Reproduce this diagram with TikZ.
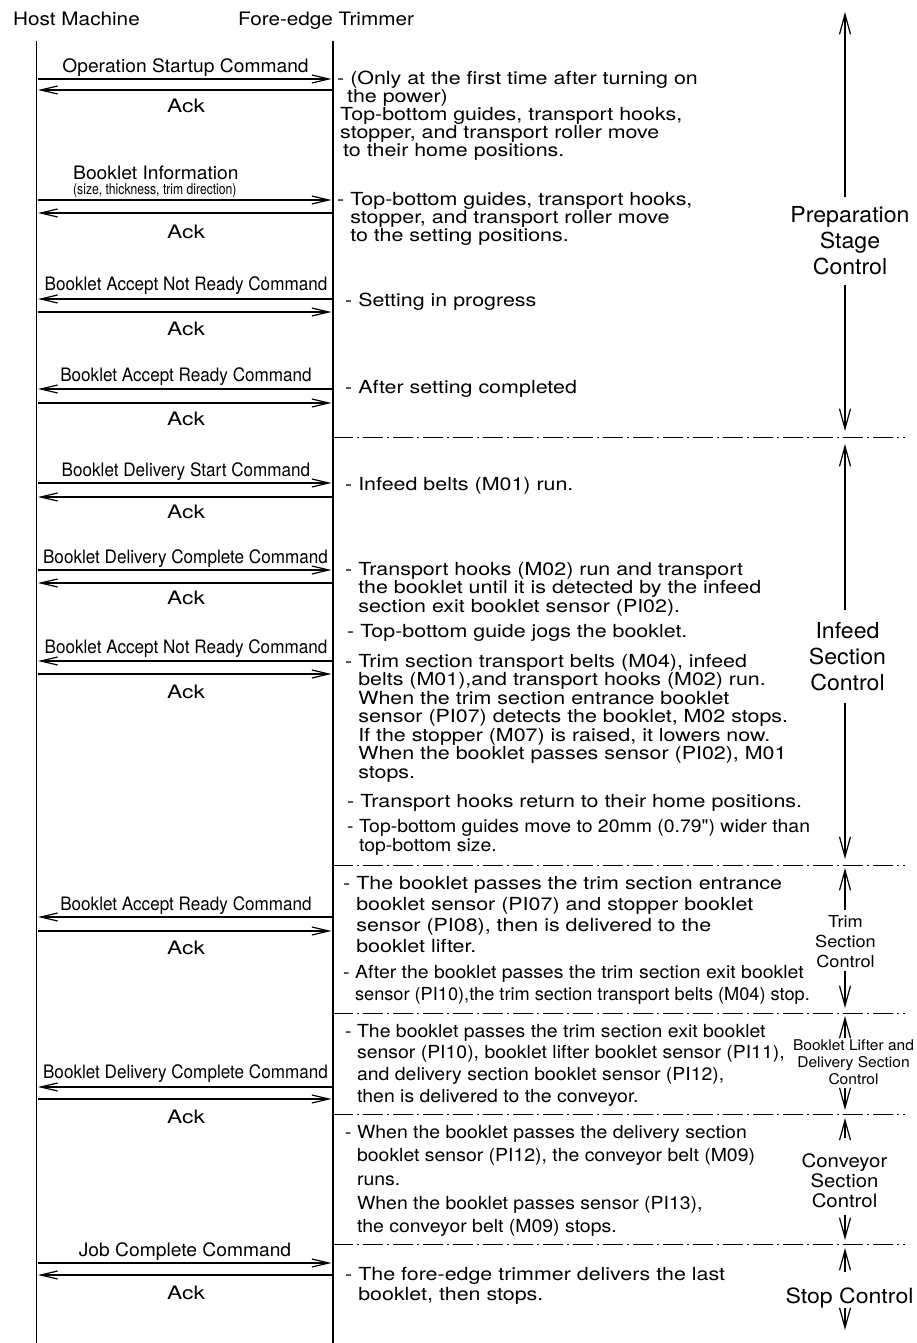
\documentclass[tikz,border=0pt]{standalone}
\usepackage{fontspec}
\setmainfont{TeX Gyre Heros}
% width variants of one sans family
\newfontfamily\fHead[FakeStretch=1.12]{TeX Gyre Heros}
\newfontfamily\fAck[FakeStretch=1.23]{TeX Gyre Heros}
\newfontfamily\fCmd[FakeStretch=1.04]{TeX Gyre Heros}
\newfontfamily\fCmdN[FakeStretch=0.925]{TeX Gyre Heros}
\newfontfamily\fSub[FakeStretch=0.81]{TeX Gyre Heros}
\newfontfamily\fDesc[FakeStretch=1.19]{TeX Gyre Heros}
\newfontfamily\fDescN[FakeStretch=1.08]{TeX Gyre Heros}
\newfontfamily\fDescNN[FakeStretch=1.01]{TeX Gyre Heros}
\newfontfamily\fStage[FakeStretch=1.05]{TeX Gyre Heros}
\newfontfamily\fStageW[FakeStretch=1.10]{TeX Gyre Heros}
\usetikzlibrary{arrows.meta}

% left-aligned stack of lines; the baseline is that of the first line
\newcommand\leftlines[2]{\vtop{\baselineskip=#1\lineskiplimit=-50pt\lineskip=0pt\relax #2}}
\newcommand\first[1]{\hbox{- #1}}
\newcommand\cont[1]{\hbox{\phantom{- }#1}}
\newcommand\plain[2][0pt]{\hbox{\kern#1\relax #2}}
% centred stack of lines; the baseline is that of the first line
\newcommand\centerlines[2]{\vtop{\baselineskip=#1\lineskiplimit=-50pt\lineskip=0pt\relax\halign{\hfil##\hfil\cr#2\crcr}}}

\begin{document}
\begin{tikzpicture}[x=1pt,y=-1pt,
  life/.style={line width=1.4pt},
  msg/.style={line width=1.2pt,-{Straight Barb[length=17pt,width=8pt]},shorten >=1.5pt,shorten <=1pt},
  sep/.style={line width=0.9pt,dash pattern=on 20pt off 4pt on 2pt off 4pt},
  stagearr/.style={line width=1.2pt,-{Straight Barb[length=20pt,width=11pt]}},
  head/.style={anchor=base,inner sep=0pt,font=\fHead\fontsize{18.5}{20}\selectfont},
  cmd/.style={anchor=base,inner sep=0pt,font=\fCmd\fontsize{18.5}{20}\selectfont},
  cmdN/.style={anchor=base,inner sep=0pt,font=\fCmdN\fontsize{18.5}{20}\selectfont},
  sub/.style={anchor=base west,inner sep=0pt,font=\fSub\fontsize{15}{16}\selectfont},
  ack/.style={anchor=base,inner sep=0pt,font=\fAck\fontsize{18.5}{20}\selectfont},
  desc/.style={anchor=base west,inner sep=0pt,font=\fDesc\fontsize{18}{18}\selectfont},
  descN/.style={anchor=base west,inner sep=0pt,font=\fDescN\fontsize{18}{18}\selectfont},
  stageL/.style={anchor=base,inner sep=0pt,font=\fStage\fontsize{22}{26}\selectfont},
]
\useasboundingbox (0,0) rectangle (917,1343);

% ---------- participants ----------
\node[head] (host) at (76.5,26) {Host Machine};
\node[head] (trimmer) at (326,26) {Fore-edge Trimmer};
\coordinate (hostTop) at (36.5,41);  \coordinate (hostBot) at (36.5,1343);
\coordinate (trimTop) at (333,41);   \coordinate (trimBot) at (333,1343);
\draw[life] (hostTop) -- (hostBot);
\draw[life] (trimTop) -- (trimBot);

% ---------- message anchors on both lifelines ----------
\foreach \n/\y in {1/79,2/90,3/200,4/213,5/299,6/312,7/389,8/403,9/483,10/497,
                   11/570,12/583,13/661,14/674,15/917,16/931,17/1087,18/1099,19/1263,20/1275}
  {\coordinate (h\n) at (36.5,\y); \coordinate (t\n) at (333,\y);}

% ---------- messages ----------
\draw[msg] (h1) -- (t1);   \draw[msg] (t2) -- (h2);
\draw[msg] (h3) -- (t3);   \draw[msg] (t4) -- (h4);
\draw[msg] (t5) -- (h5);   \draw[msg] (h6) -- (t6);
\draw[msg] (t7) -- (h7);   \draw[msg] (h8) -- (t8);
\draw[msg] (h9) -- (t9);   \draw[msg] (t10) -- (h10);
\draw[msg] (h11) -- (t11); \draw[msg] (t12) -- (h12);
\draw[msg] (t13) -- (h13); \draw[msg] (h14) -- (t14);
\draw[msg] (t15) -- (h15); \draw[msg] (h16) -- (t16);
\draw[msg] (t17) -- (h17); \draw[msg] (h18) -- (t18);
\draw[msg] (h19) -- (t19); \draw[msg] (t20) -- (h20);

% ---------- message labels ----------
\node[cmd] (c1) at (185.5,72.7) {Operation Startup Command};
\node[cmd,anchor=base west] (c2) at (73,180) {Booklet Information};
\node[sub] (c2s) at (73,195) {(size, thickness, trim direction)};
\node[cmdN] (c3) at (186,290.7) {Booklet Accept Not Ready Command};
\node[cmdN] (c4) at (186,381.7) {Booklet Accept Ready Command};
\node[cmdN] (c5) at (186,476) {Booklet Delivery Start Command};
\node[cmdN] (c6) at (185.5,563) {Booklet Delivery Complete Command};
\node[cmdN] (c7) at (186,653) {Booklet Accept Not Ready Command};
\node[cmdN] (c8) at (186,910.7) {Booklet Accept Ready Command};
\node[cmdN] (c9) at (185.5,1078) {Booklet Delivery Complete Command};
\node[cmd] (c10) at (185,1256) {Job Complete Command};

\foreach \n/\y in {1/112.7,2/238,3/335,4/425,5/518,6/604,7/698,8/954,9/1123,10/1299}
  {\node[ack] (ack\n) at (186,\y) {Ack};}

% ---------- stage separators ----------
\foreach \n/\y in {1/437,2/865,3/1013,4/1114,5/1244}
  {\coordinate (sL\n) at (333,\y); \coordinate (sR\n) at (905,\y);
   \draw[sep] (sL\n) -- (sR\n);}

% ---------- actions of the trimmer ----------
\node[desc] (dA) at (337,85) {\leftlines{17.8pt}{%
  \first{(Only at the first time after turning on}%
  \plain[10pt]{the power)}%
  \plain[3pt]{Top-bottom guides, transport hooks,}%
  \plain[3pt]{stopper, and transport roller move}%
  \plain[6pt]{to their home positions.}}};
\node[desc] (dB) at (337,205) {\leftlines{18pt}{%
  \first{Top-bottom guides, transport hooks,}%
  \cont{stopper, and transport roller move}%
  \cont{to the setting positions.}}};
\node[desc] (dC) at (345,306) {\leftlines{18pt}{\first{Setting in progress}}};
\node[desc] (dD) at (345,393) {\leftlines{18pt}{\first{After setting completed}}};
\node[desc] (dE) at (345,490) {\leftlines{18pt}{\first{Infeed belts (M01) run.}}};
\node[desc] (dF) at (345,575) {\leftlines{18.5pt}{%
  \first{Transport hooks (M02) run and transport}%
  \cont{the booklet until it is detected by the infeed}%
  \cont{section exit booklet sensor (PI02).}}};
\node[desc] (dG) at (347,637) {\leftlines{18pt}{\first{Top-bottom guide jogs the booklet.}}};
\node[desc] (dH) at (345,667) {\leftlines{18.5pt}{%
  \first{Trim section transport belts (M04), infeed}%
  \cont{belts (M01),and transport hooks (M02) run.}%
  \cont{When the trim section entrance booklet}%
  \cont{sensor (PI07) detects the booklet, M02 stops.}%
  \cont{If the stopper (M07) is raised, it lowers now.}%
  \cont{When the booklet passes sensor (PI02), M01}%
  \cont{stops.}}};
\node[desc] (dI) at (347,807) {\leftlines{18pt}{\first{Transport hooks return to their home positions.}}};
\node[descN] (dJ) at (347,832) {\leftlines{19pt}{%
  \first{Top-bottom guides move to 20mm (0.79") wider than}%
  \cont{top-bottom size.}}};
\node[desc] (dK) at (343,889) {\leftlines{21.3pt}{%
  \first{The booklet passes the trim section entrance}%
  \cont{booklet sensor (PI07) and stopper booklet}%
  \cont{sensor (PI08), then is delivered to the}%
  \cont{booklet lifter.}}};
\node[descN] (dL) at (343,978) {\leftlines{22pt}{%
  \first{After the booklet passes the trim section exit booklet}%
  \cont{\fDescNN sensor (PI10),the trim section transport belts (M04) stop.}}};
\node[descN] (dM) at (345,1037) {\leftlines{21.7pt}{%
  \first{The booklet passes the trim section exit booklet}%
  \cont{sensor (PI10), booklet lifter booklet sensor (PI11),}%
  \cont{and delivery section booklet sensor (PI12),}%
  \cont{then is delivered to the conveyor.}}};
\node[descN] (dN) at (345,1138) {\leftlines{23.7pt}{%
  \first{When the booklet passes the delivery section}%
  \cont{booklet sensor (PI12), the conveyor belt (M09)}%
  \cont{runs.}%
  \cont{When the booklet passes sensor (PI13),}%
  \cont{the conveyor belt (M09) stops.}}};
\node[desc] (dO) at (345,1280) {\leftlines{20pt}{%
  \first{The fore-edge trimmer delivers the last}%
  \cont{booklet, then stops.}}};

% ---------- control stages ----------
\node[stageL] (prep) at (850,222.8) {\centerlines{26pt}{Preparation\cr Stage\cr Control}};
\node[stageL] (infeed) at (847.5,638) {\centerlines{26pt}{Infeed\cr Section\cr Control}};
\node[stageL,font=\fStageW\fontsize{16.5}{20}\selectfont] (trimS) at (845.5,927)
  {\centerlines{20pt}{Trim\cr Section\cr Control}};
\node[stageL,font=\fStage\fontsize{14.8}{17}\selectfont] (lifter) at (853.5,1050.5)
  {\centerlines{17pt}{Booklet Lifter and\cr Delivery Section\cr Control}};
\node[stageL,font=\fStageW\fontsize{18.5}{20}\selectfont] (conv) at (844.5,1167)
  {\centerlines{20pt}{Conveyor\cr Section\cr Control}};
\node[stageL,font=\fStageW\fontsize{21}{24}\selectfont] (stopS) at (849.5,1303) {Stop Control};

\foreach \n/\a/\b/\c/\d in {prep/12/197/285/431, infeed/444/610/703/859,
    trimS/868/910/971/1008, lifter/1016/1038/1088/1110,
    conv/1118/1138/1215/1240, stopS/1248/1272/1308/1330}
  {\coordinate (\n Tip1) at (845,\a); \coordinate (\n Up) at (845,\b);
   \coordinate (\n Down) at (845,\c); \coordinate (\n Tip2) at (845,\d);
   \draw[stagearr] (\n Up) -- (\n Tip1);
   \draw[stagearr] (\n Down) -- (\n Tip2);}
\end{tikzpicture}
\end{document}
